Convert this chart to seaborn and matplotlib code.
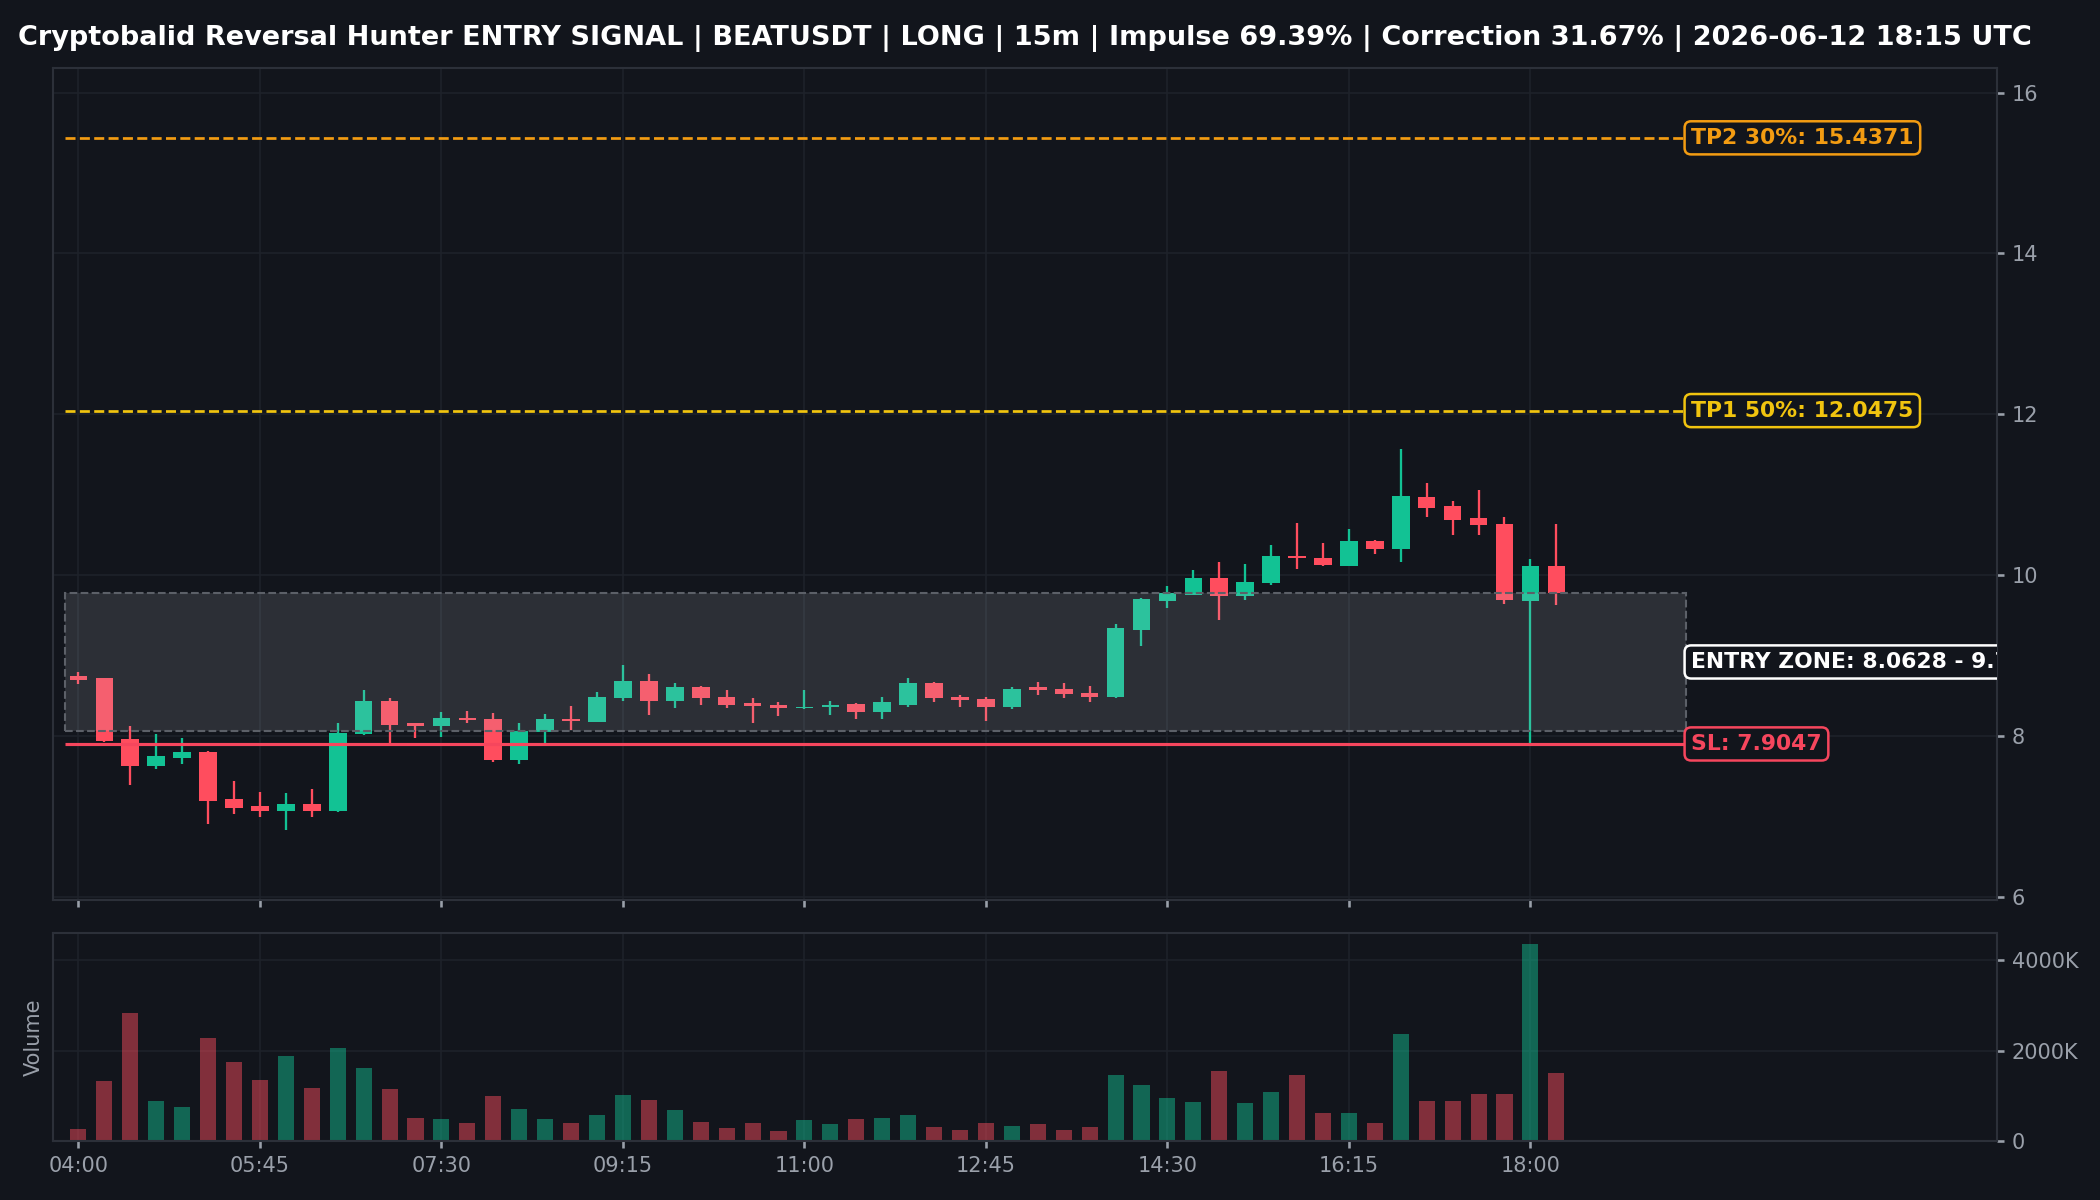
import pandas as pd
import seaborn as sns
import matplotlib.pyplot as plt
from matplotlib.patches import Rectangle
from matplotlib.ticker import FuncFormatter

BG = '#12151c'
GRID = '#1e222a'
SPINE = '#2c3039'
TXT = '#9aa0aa'
UP = '#12c294'
DOWN = '#ff4d5e'

sns.set_theme(style="darkgrid", rc={
    'figure.facecolor': BG, 'axes.facecolor': BG, 'savefig.facecolor': BG,
    'axes.edgecolor': SPINE, 'axes.linewidth': 1.0, 'grid.color': GRID,
    'grid.linewidth': 0.8, 'text.color': 'white', 'axes.labelcolor': TXT,
    'xtick.color': TXT, 'ytick.color': TXT, 'xtick.bottom': True,
    'ytick.right': True, 'xtick.major.size': 3.5, 'ytick.major.size': 3.5,
    'patch.edgecolor': 'none', 'patch.linewidth': 0,
})
plt.rcParams['font.family'] = ['DejaVu Sans']

# 15m candles, BEATUSDT, from 2026-06-12 04:00 UTC
opens = [8.75, 8.72, 7.96, 7.63, 7.73, 7.81, 7.22, 7.13, 7.07, 7.16,
         7.07, 8.03, 8.44, 8.16, 8.13, 8.23, 8.22, 7.71, 8.05, 8.22,
         8.18, 8.47, 8.69, 8.44, 8.61, 8.49, 8.41, 8.39, 8.35, 8.37,
         8.40, 8.30, 8.39, 8.66, 8.49, 8.46, 8.37, 8.61, 8.59, 8.54,
         8.49, 9.32, 9.68, 9.76, 9.97, 9.74, 9.90, 10.24, 10.21, 10.12,
         10.43, 10.33, 10.97, 10.86, 10.71, 10.64, 9.68, 10.12]
closes = [8.70, 7.94, 7.63, 7.75, 7.81, 7.20, 7.11, 7.07, 7.16, 7.07,
          8.04, 8.44, 8.14, 8.13, 8.23, 8.20, 7.71, 8.07, 8.22, 8.19,
          8.49, 8.69, 8.44, 8.61, 8.47, 8.39, 8.38, 8.35, 8.37, 8.39,
          8.30, 8.42, 8.66, 8.47, 8.45, 8.37, 8.59, 8.58, 8.52, 8.49,
          9.34, 9.70, 9.78, 9.97, 9.74, 9.92, 10.24, 10.21, 10.13, 10.43,
          10.33, 10.98, 10.84, 10.69, 10.62, 9.69, 10.12, 9.78]
highs = [8.80, 8.73, 8.13, 8.03, 7.98, 7.82, 7.44, 7.31, 7.30, 7.35,
         8.17, 8.57, 8.48, 8.17, 8.30, 8.31, 8.29, 8.16, 8.28, 8.38,
         8.55, 8.88, 8.78, 8.66, 8.63, 8.57, 8.47, 8.42, 8.57, 8.44,
         8.41, 8.49, 8.72, 8.68, 8.51, 8.49, 8.61, 8.67, 8.66, 8.63,
         9.40, 9.72, 9.87, 10.07, 10.16, 10.14, 10.38, 10.65, 10.40, 10.57,
         10.44, 11.57, 11.15, 10.93, 11.06, 10.73, 10.20, 10.64]
lows = [8.65, 7.93, 7.40, 7.59, 7.65, 6.91, 7.03, 7.00, 6.83, 7.00,
        7.06, 8.02, 7.90, 7.98, 7.99, 8.17, 7.68, 7.65, 7.91, 8.08,
        8.18, 8.44, 8.26, 8.35, 8.39, 8.35, 8.16, 8.25, 8.34, 8.26,
        8.21, 8.22, 8.36, 8.42, 8.37, 8.19, 8.34, 8.51, 8.48, 8.42,
        8.48, 9.12, 9.60, 9.75, 9.44, 9.69, 9.88, 10.08, 10.12, 10.12,
        10.27, 10.17, 10.72, 10.50, 10.50, 9.64, 7.90, 9.63]
volumes = [265, 1323, 2822, 882, 750, 2279, 1742, 1345, 1874, 1169,
           2051, 1610, 1147, 507, 485, 397, 992, 706, 485, 397,
           573, 1014, 904, 684, 419, 287, 397, 220, 463, 375,
           485, 507, 573, 309, 243, 404, 331, 375, 243, 309,
           1455, 1235, 948, 860, 1544, 838, 1080, 1455, 617, 617,
           404, 2359, 882, 882, 1036, 1036, 4344, 1499]
volumes = [v * 1000 for v in volumes]

entry_lo, entry_hi = 8.0628, 9.7842
tp1, tp2, sl = 12.0475, 15.4371, 7.9047

times = pd.date_range('2026-06-12 04:00', periods=len(opens), freq='15min')
df = pd.DataFrame({'open': opens, 'high': highs, 'low': lows,
                   'close': closes, 'volume': volumes})
df['x'] = range(len(df))
df['dir'] = ['up' if c >= o else 'down' for o, c in zip(opens, closes)]
colors = [UP if d == 'up' else DOWN for d in df['dir']]

fig, (ax, ax2) = plt.subplots(2, 1, figsize=(14, 8), dpi=150, sharex=True,
                              gridspec_kw={'height_ratios': [4, 1]})
fig.subplots_adjust(left=0.025, right=0.951, top=0.943, bottom=0.049, hspace=0.065)

# candles
ax.vlines(df['x'], df['low'], df['high'], colors=colors, lw=1.1, zorder=2)
body_lo = df[['open', 'close']].min(axis=1)
body_h = (df['close'] - df['open']).abs().clip(lower=0.02)
ax.bar(df['x'], body_h, bottom=body_lo, width=0.68, color=colors,
       linewidth=0, edgecolor='none', zorder=3)

# entry zone + levels
x_end = 62
ax.add_patch(Rectangle((-0.5, entry_lo), x_end + 0.5, entry_hi - entry_lo,
                       facecolor=(0.76, 0.78, 0.82, 0.15), edgecolor='#5c6068',
                       linestyle='--', lw=1.0, zorder=4))
ax.hlines(tp2, -0.5, x_end, colors='#f39c12', linestyles='--', lw=1.3, zorder=5)
ax.hlines(tp1, -0.5, x_end, colors='#f1c40f', linestyles='--', lw=1.3, zorder=5)
ax.hlines(sl, -0.5, x_end, colors='#f6465d', lw=1.5, zorder=5)

def tag(y, text, c):
    ax.text(x_end + 0.2, y, text, color=c, fontsize=10.5, fontweight='bold',
            va='center', ha='left', zorder=6, clip_on=True,
            bbox=dict(boxstyle='round,pad=0.3', fc=BG, ec=c, lw=1.2))

tag(tp2, f'TP2 30%: {tp2:.4f}', '#f39c12')
tag(tp1, f'TP1 50%: {tp1:.4f}', '#f1c40f')
tag((entry_lo + entry_hi) / 2, f'ENTRY ZONE: {entry_lo:.4f} - {entry_hi:.4f}', 'white')
tag(sl, f'SL: {sl:.4f}', '#f6465d')

ax.set_ylim(5.97, 16.3)
ax.set_yticks([6, 8, 10, 12, 14, 16])
ax.yaxis.tick_right()
ax.tick_params(axis='y', labelsize=10)
ax.set_title('Cryptobalid Reversal Hunter ENTRY SIGNAL | BEATUSDT | LONG | 15m | '
             'Impulse 69.39% | Correction 31.67% | 2026-06-12 18:15 UTC',
             fontsize=13, fontweight='bold', color='white', pad=11)

# volume
sns.barplot(data=df, x='x', y='volume', hue='dir', palette={'up': UP, 'down': DOWN},
            dodge=False, width=0.62, alpha=0.47, saturation=1, legend=False,
            linewidth=0, edgecolor='none', ax=ax2)
ax2.set_ylim(0, max(volumes) * 1.055)
ax2.set_yticks([0, 2000000, 4000000])
ax2.yaxis.set_major_formatter(FuncFormatter(lambda v, p: '0' if v == 0 else f'{v / 1000:.0f}K'))
ax2.yaxis.tick_right()
ax2.set_ylabel('Volume', fontsize=10, color=TXT)
ax2.set_xlabel('')
ax2.tick_params(axis='y', labelsize=10)

ticks = list(range(0, len(df), 7))
ax2.set_xticks(ticks)
ax2.set_xticklabels([times[i].strftime('%H:%M') for i in ticks], fontsize=10)
ax2.set_xlim(-1, 74)
for a in (ax, ax2):
    a.grid(True, color=GRID, lw=0.8)
    a.set_axisbelow(True)
    for s in a.spines.values():
        s.set_visible(True)
        s.set_color(SPINE)

fig.savefig('out.png', dpi=150, facecolor=BG)
